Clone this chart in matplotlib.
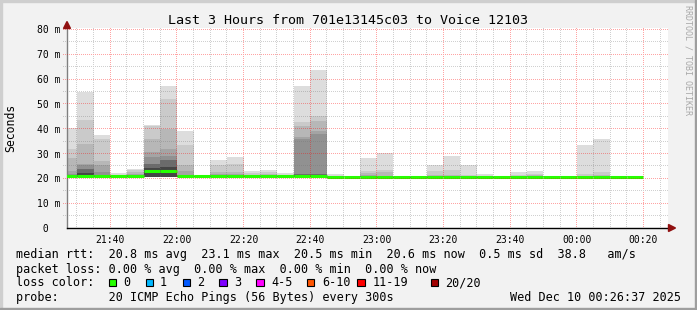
import numpy as np
import pandas as pd
import matplotlib
matplotlib.use("Agg")
import matplotlib.pyplot as plt
from matplotlib.patches import Rectangle, Polygon

W, H = 697, 310
MONO = "DejaVu Sans Mono"

## 5 minute slots, 20 pings each (values in ms)
slot_start = pd.date_range("2025-12-09 21:25", periods=35, freq="5min")

# upper edges of the smoke bands (ibin 1 = max ... ibin 9 = close to median)
ping_max = [40.5, 54.7, 37.6, 22.1, 23.8, 41.6, 57.1, 38.9, 21.4, 27.5, 28.8, 23.0, 23.4, 22.1, 57.4, 63.6, 21.9, 21.0,
            28.4, 30.2, 20.9, 20.9, 25.5, 29.2, 25.5, 21.8, 20.9, 22.4, 22.8, 20.9, 20.9, 33.5, 36.0, 21.0, 21.0]
ping_p2 = [31.8, 43.6, 36.0, 21.5, 23.2, 41.0, 52.1, 33.5, 21.1, 25.2, 25.9, 22.1, 22.4, 21.5, 42.9, 45.3, 21.1, 20.9,
           22.8, 23.4, 20.8, 20.8, 23.0, 23.4, 21.3, 21.1, 20.8, 21.5, 21.8, 20.8, 20.8, 21.8, 22.4, 20.9, 20.9]
ping_p3 = [28.4, 33.9, 26.8, 21.2, 22.5, 36.0, 39.9, 25.2, 21.0, 22.4, 22.4, 21.4, 21.6, 21.2, 41.1, 43.2, 21.0, 20.8,
           22.1, 22.4, 20.7, 20.7, 21.2, 21.5, 21.0, 20.9, 20.7, 21.0, 21.2, 20.8, 20.8, 21.1, 21.3, 20.8, 20.8]
ping_p4 = [22.8, 25.9, 25.2, 21.1, 21.9, 30.6, 31.9, 22.8, 20.9, 21.6, 21.6, 21.2, 21.3, 21.1, 36.6, 39.0, 20.9, 20.7,
           21.2, 21.0, 20.7, 20.7, 20.9, 21.0, 20.8, 20.8, 20.7, 20.8, 20.9, 20.7, 20.7, 20.8, 20.9, 20.7, 20.7]
ping_p5 = [21.8, 25.2, 22.6, 21.0, 21.5, 28.8, 29.2, 21.4, 20.9, 21.3, 21.3, 21.1, 21.1, 21.0, 35.8, 38.0, 20.8, 20.7,
           21.0, 20.9, 20.6, 20.6, 20.8, 20.8, 20.7, 20.7, 20.6, 20.7, 20.8, 20.7, 20.7, 20.7, 20.8, 20.7, 20.7]
ping_p7 = [21.3, 23.6, 21.5, 20.9, 21.2, 25.6, 27.3, 21.2, 20.8, 21.1, 21.1, 21.0, 21.0, 20.9, 21.6, 21.6, 20.6, 20.7,
           20.9, 20.7, 20.6, 20.6, 20.7, 20.7, 20.7, 20.6, 20.6, 20.7, 20.7, 20.7, 20.7, 20.7, 20.7, 20.7, 20.7]
ping_p9 = [21.0, 22.0, 21.1, 20.9, 21.0, 24.2, 24.5, 21.0, 20.8, 21.0, 21.0, 20.9, 20.9, 20.9, 21.2, 21.2, 20.5, 20.6,
           20.8, 20.6, 20.6, 20.6, 20.6, 20.6, 20.6, 20.6, 20.6, 20.6, 20.6, 20.6, 20.6, 20.6, 20.6, 20.6, 20.6]
ping_min = [20.5, 20.5, 20.5, 20.5, 20.5, 20.6, 20.6, 20.5, 20.5, 20.5, 20.5, 20.5, 20.5, 20.5, 20.5, 20.5, 20.3, 20.4,
            20.4, 20.3, 20.3, 20.3, 20.3, 20.4, 20.4, 20.3, 20.3, 20.4, 20.4, 20.4, 20.4, 20.4, 20.4, 20.4, 20.4]
median = [20.8, 20.8, 20.8, 20.8, 20.8, 22.9, 23.1, 20.9, 20.8, 20.8, 20.8, 20.8, 20.8, 20.8, 21.0, 20.9, 20.4, 20.6,
          20.7, 20.5, 20.5, 20.5, 20.5, 20.6, 20.6, 20.5, 20.5, 20.6, 20.6, 20.6, 20.6, 20.6, 20.6, 20.6, 20.6]

band_colors = ["#dddddd", "#cacaca", "#b7b7b7", "#a4a4a4", "#919191", "#6b6b6b", "#454545"]

x_ticks = ["21:40", "22:00", "22:20", "22:40", "23:00", "23:20", "23:40", "00:00", "00:20"]
y_ticks = [0, 10, 20, 30, 40, 50, 60, 70, 80]
y_labels = [" 0  ", "10 m", "20 m", "30 m", "40 m", "50 m", "60 m", "70 m", "80 m"]

loss_labels = ["0", "1", "2", "3", "4-5", "6-10", "11-19", "20/20"]
loss_colors = ["#26ff00", "#00b8ff", "#0059ff", "#7e00ff", "#ff00ff", "#ff5500", "#ff0000", "#a10000"]

title = "Last 3 Hours from 701e13145c03 to Voice 12103"
legend_lines = [
    "median rtt:  20.8 ms avg  23.1 ms max  20.5 ms min  20.6 ms now  0.5 ms sd  38.8   am/s",
    "packet loss: 0.00 % avg  0.00 % max  0.00 % min  0.00 % now",
    "loss color:",
    "probe:       20 ICMP Echo Pings (56 Bytes) every 300s",
]
stamp = "Wed Dec 10 00:26:37 2025"


def fx(x):
    return x / W


def fy(y):
    return 1 - y / H


t0 = pd.Timestamp("2025-12-09 21:00")
x0 = ((slot_start - t0).total_seconds() / 60).values
tick_min = []
for lab in x_ticks:
    hh, mm = map(int, lab.split(":"))
    tick_min.append((hh - 21) % 24 * 60 + mm)

fig = plt.figure(figsize=(W / 100, H / 100), dpi=100)
fig.patch.set_facecolor("#f2f2f2")

ax = fig.add_axes([fx(67), fy(228), 601 / W, 200 / H])
ax.set_facecolor("white")
ax.set_xlim(27.0, 207.4)
ax.set_ylim(0, 80.6)

lo = np.array(ping_min)
for top, col in zip([ping_max, ping_p2, ping_p3, ping_p4, ping_p5, ping_p7, ping_p9], band_colors):
    ax.bar(x0, np.array(top) - lo, bottom=lo, width=5, align="edge", color=col,
           linewidth=0, antialiased=False, zorder=2)

ax.hlines(median, x0, x0 + 5, colors=loss_colors[0], linewidth=2.2, capstyle="butt", zorder=4)

ax.set_xticks(tick_min)
ax.set_xticklabels(x_ticks)
ax.set_yticks(y_ticks)
ax.set_yticklabels(y_labels)

for lab in ax.get_xticklabels() + ax.get_yticklabels():
    lab.set_family(MONO)
    lab.set_fontsize(7)
ax.tick_params(axis="x", which="both", length=0, pad=5)
ax.tick_params(axis="y", which="major", length=0, pad=5)

for s in ["top", "right"]:
    ax.spines[s].set_visible(False)
ax.spines["left"].set_color("#808080")
ax.spines["left"].set_linewidth(1.0)
ax.spines["bottom"].set_color("black")
ax.spines["bottom"].set_linewidth(1.0)

# dotted rrdtool-style grid, painted pixel by pixel on top of the graph
major_col = (1.0, 0.0, 0.0, 0.36)
minor_col = (0.45, 0.45, 0.45, 0.33)
grid = np.zeros((H, W, 4))
c_left = int(np.floor(ax.transData.transform((27.0, 0))[0]))
c_right = int(np.floor(ax.transData.transform((207.4, 0))[0]))
r_bottom = H - 1 - int(np.floor(ax.transData.transform((0, 0))[1]))
r_top = H - 1 - int(np.floor(ax.transData.transform((0, 80.6))[1]))


def col_of(t):
    return int(np.floor(ax.transData.transform((t, 0))[0]))


def row_of(v):
    return H - 1 - int(np.floor(ax.transData.transform((0, v))[1]))


for t in np.arange(30, 207, 5):
    colr = major_col if t in tick_min else minor_col
    grid[r_top + 1:r_bottom:2, col_of(t)] = colr
for v in np.arange(5, 81, 5):
    colr = major_col if v % 10 == 0 else minor_col
    grid[row_of(v), c_left - 4:c_right + 1:2] = colr
fig.figimage(grid, xo=0, yo=0, origin="upper", zorder=1)

# arrows
arrow_col = "#901010"
fig.add_artist(Polygon([(fx(63.5), fy(28.5)), (fx(70.5), fy(28.5)), (fx(67), fy(21.5))],
                       closed=True, color=arrow_col, transform=fig.transFigure))
fig.add_artist(Polygon([(fx(668.5), fy(224.5)), (fx(668.5), fy(231.5)), (fx(675.5), fy(228))],
                       closed=True, color=arrow_col, transform=fig.transFigure))

# frame
fig.add_artist(Rectangle((0, 0), fx(2), 1, color="#cfcfcf", transform=fig.transFigure))
fig.add_artist(Rectangle((0, fy(2)), 1, 2 / H, color="#cfcfcf", transform=fig.transFigure))
fig.add_artist(Rectangle((fx(695), 0), fx(2), 1, color="#9e9e9e", transform=fig.transFigure))
fig.add_artist(Rectangle((0, 0), 1, 2 / H, color="#9e9e9e", transform=fig.transFigure))

# texts
fig.text(fx(348), fy(23.5), title, family=MONO, fontsize=9.6, ha="center", va="baseline")
fig.text(fx(11), fy(127.5), "Seconds", family=MONO, fontsize=8.3, rotation=90, ha="center", va="center")
fig.text(fx(688), fy(5), "RRDTOOL / TOBI OETIKER", family=MONO, fontsize=6, rotation=270,
         ha="center", va="top", color="#a8a8a8")

baselines = [258.3, 272.5, 286.5, 300.7]
for line, yb in zip(legend_lines, baselines):
    fig.text(fx(16), fy(yb), line, family=MONO, fontsize=8.5, ha="left", va="baseline")
fig.text(fx(681), fy(baselines[3]), stamp, family=MONO, fontsize=8.5, ha="right", va="baseline")

box_x = [108.7, 145.7, 182.7, 219, 256, 306.7, 357, 430.7]
lab_x = [123, 160, 197, 234, 271, 322, 373, 445]
for bx, lx, lab, col in zip(box_x, lab_x, loss_labels, loss_colors):
    fig.add_artist(Rectangle((fx(bx), fy(286)), 7.5 / W, 7.5 / H, facecolor=col, edgecolor="black",
                             linewidth=0.8, transform=fig.transFigure))
    fig.text(fx(lx), fy(baselines[2]), lab, family=MONO, fontsize=8.5, ha="left", va="baseline")

fig.savefig("out.png", dpi=100, facecolor=fig.get_facecolor())
